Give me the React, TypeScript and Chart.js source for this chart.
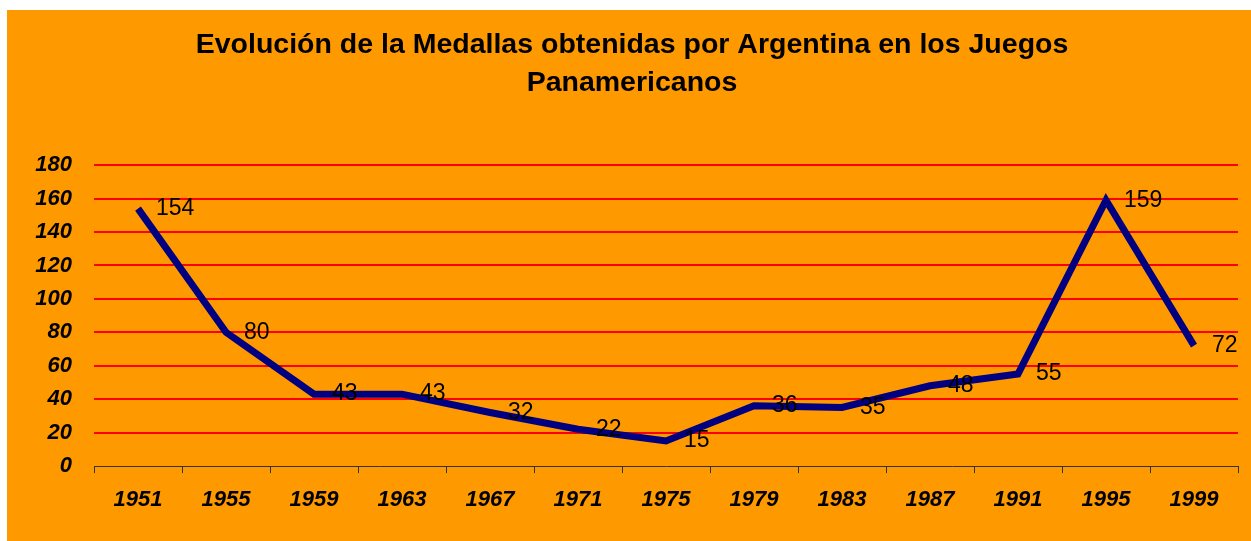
import React, { useEffect, useRef } from "react";
import { Chart, registerables } from "chart.js";

Chart.register(...registerables);

const years = ["1951", "1955", "1959", "1963", "1967", "1971", "1975", "1979", "1983", "1987", "1991", "1995", "1999"];
const medals = [154, 80, 43, 43, 32, 22, 15, 36, 35, 48, 55, 159, 72];
const titleLines = ["Evolución de la Medallas obtenidas por Argentina en los Juegos", "Panamericanos"];

const FONT = "'Liberation Sans', Arial, sans-serif";

const valueLabels = {
  id: "valueLabels",
  afterDatasetsDraw(chart: any) {
    const ctx = chart.ctx;
    const meta = chart.getDatasetMeta(0);
    ctx.save();
    ctx.font = `23px ${FONT}`;
    ctx.fillStyle = "#000000";
    ctx.textAlign = "left";
    ctx.textBaseline = "middle";
    meta.data.forEach((pt: any, i: number) => {
      ctx.fillText(String(medals[i]), pt.x + 18, pt.y);
    });
    ctx.restore();
  },
};

export default function App() {
  const ref = useRef<HTMLCanvasElement | null>(null);
  useEffect(() => {
    if (!ref.current) return;
    const chart = new Chart(ref.current, {
      type: "line",
      data: {
        labels: years,
        datasets: [
          {
            data: medals,
            borderColor: "#000080",
            borderWidth: 7,
            pointRadius: 0,
            tension: 0,
            fill: false,
            borderJoinStyle: "miter",
            borderCapStyle: "butt",
          },
        ],
      },
      options: {
        responsive: false,
        animation: false,
        devicePixelRatio: 1,
        layout: { padding: { left: 19, right: 13, top: 0, bottom: 0 } },
        plugins: {
          legend: { display: false },
          tooltip: { enabled: false },
          title: {
            display: true,
            text: titleLines,
            color: "#000000",
            font: { family: FONT, size: 28.5, weight: "bold", lineHeight: 1.34 },
            padding: { top: 16, bottom: 62.8 },
          },
        },
        scales: {
          x: {
            type: "category",
            offset: true,
            grid: {
              offset: true,
              drawOnChartArea: false,
              drawTicks: true,
              tickLength: 7,
              color: "#333333",
              lineWidth: 1,
            },
            border: { display: true, color: "#333333", width: 1 },
            ticks: {
              color: "#000000",
              padding: 14,
              maxRotation: 0,
              autoSkip: false,
              font: { family: FONT, size: 22, weight: "bold", style: "italic" },
            },
            afterFit(scale: any) {
              scale.height = 75;
            },
          },
          y: {
            min: 0,
            max: 180,
            grid: {
              drawTicks: false,
              lineWidth: 2,
              color: (c: any) => (c.tick && c.tick.value === 0 ? "rgba(0,0,0,0)" : "#FF0000"),
            },
            border: { display: false },
            ticks: {
              stepSize: 20,
              color: "#000000",
              padding: 22,
              font: { family: FONT, size: 22, weight: "bold", style: "italic" },
            },
            afterFit(scale: any) {
              scale.width = 68;
            },
          },
        },
      },
      plugins: [valueLabels],
    });
    return () => chart.destroy();
  }, []);

  return (
    <div
      style={{
        position: "absolute",
        left: 7,
        top: 10,
        width: 1244,
        height: 531,
        background: "#FF9900",
      }}
    >
      <canvas ref={ref} width={1244} height={531} style={{ display: "block" }} />
    </div>
  );
}
